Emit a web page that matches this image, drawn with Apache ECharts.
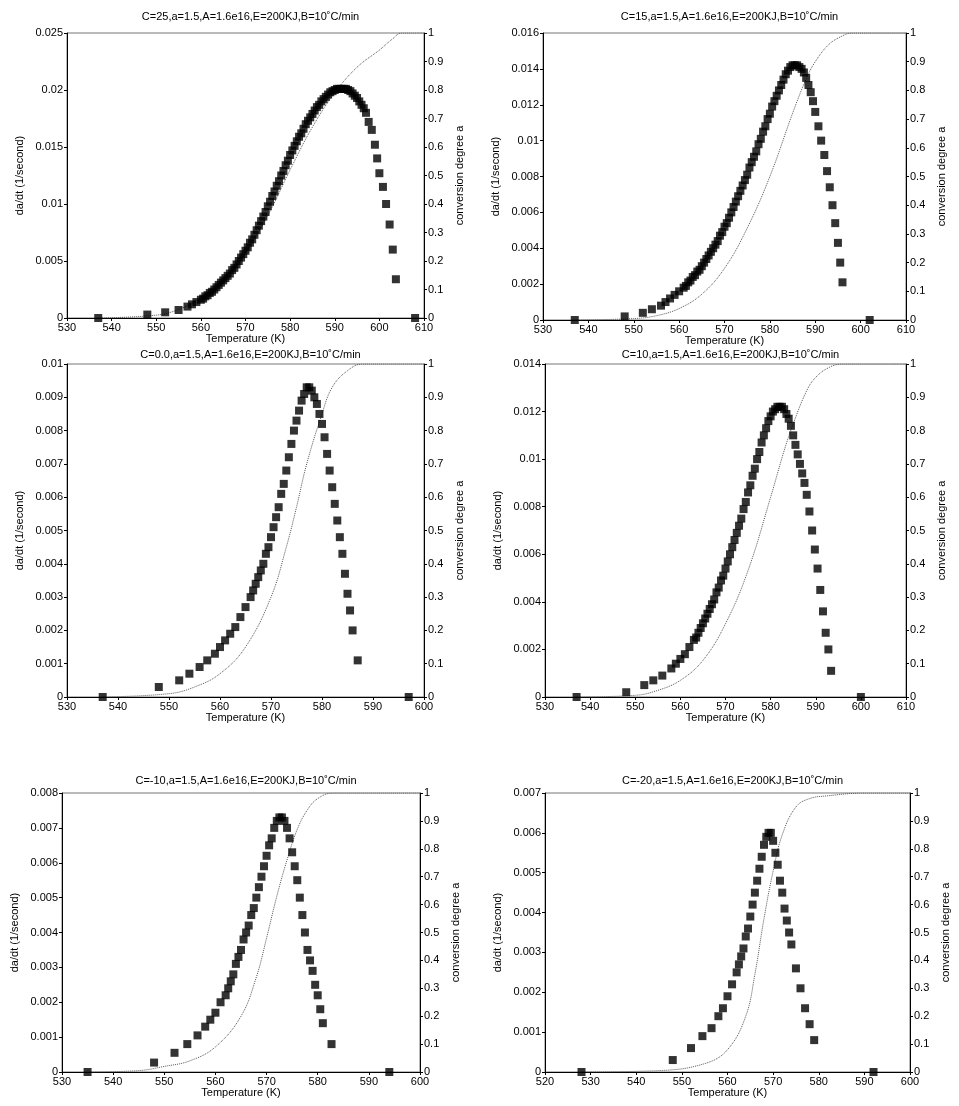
<!DOCTYPE html>
<html>
<head>
<meta charset="utf-8">
<script src="https://cdn.jsdelivr.net/npm/echarts@6/dist/echarts.min.js"></script>
<style>html,body{margin:0;padding:0;background:#fff}#c{width:959px;height:1106px}</style>
</head>
<body>
<div id="c"></div>
<script>
// rate data [T (K), da/dt] and conversion [T, a] for each panel
var titles = ['C=25,a=1.5,A=1.6e16,E=200KJ,B=10\u02daC/min', 'C=15,a=1.5,A=1.6e16,E=200KJ,B=10\u02daC/min',
    'C=0.0,a=1.5,A=1.6e16,E=200KJ,B=10\u02daC/min', 'C=10,a=1.5,A=1.6e16,E=200KJ,B=10\u02daC/min',
    'C=-10,a=1.5,A=1.6e16,E=200KJ,B=10\u02daC/min', 'C=-20,a=1.5,A=1.6e16,E=200KJ,B=10\u02daC/min'];
var xRange = [[530, 610], [530, 610], [530, 600], [530, 610], [530, 600], [520, 600]];
var yMax = [0.025, 0.016, 0.01, 0.014, 0.008, 0.007];
var yStep = [0.005, 0.002, 0.001, 0.002, 0.001, 0.001];

var rate1 = [[537,0],[548,0.0003],[552,0.0005],[555,0.0007],[557,0.001],[558,0.0012],[559,0.0014],[560,0.0016],[560.5,0.0017],[561,0.0019],[561.5,0.002],[562,0.0022],[562.5,0.0023],[563,0.0025],[563.5,0.0027],[564,0.0029],[564.5,0.0031],[565,0.0033],[565.5,0.0035],[566,0.0037],[566.5,0.0039],[567,0.0042],[567.5,0.0044],[568,0.0047],[568.5,0.005],[569,0.0053],[569.5,0.0056],[570,0.0059],[570.5,0.0062],[571,0.0066],[571.5,0.0069],[572,0.0073],[572.5,0.0077],[573,0.0081],[573.5,0.0085],[574,0.0089],[574.5,0.0093],[575,0.0098],[575.5,0.0102],[576,0.0107],[576.5,0.0111],[577,0.0116],[577.5,0.012],[578,0.0125],[578.5,0.0129],[579,0.0134],[579.5,0.0138],[580,0.0143],[580.5,0.0147],[581,0.0151],[581.5,0.0155],[582,0.0159],[582.5,0.0162],[583,0.0166],[583.5,0.017],[584,0.0173],[584.5,0.0176],[585,0.0179],[585.5,0.0182],[586,0.0185],[586.5,0.0187],[587,0.019],[587.5,0.0192],[588,0.0194],[588.5,0.0196],[589,0.0198],[589.5,0.0199],[590,0.02],[590.5,0.0201],[591,0.0201],[591.5,0.0201],[592,0.0201],[592.5,0.0201],[593,0.02],[593.5,0.0199],[594,0.0197],[594.5,0.0195],[595,0.0193],[595.5,0.019],[596,0.0187],[596.5,0.0184],[597,0.018],[597.6,0.0172],[598.3,0.0165],[599,0.0152],[599.5,0.014],[600,0.0127],[600.8,0.0115],[601.5,0.01],[602.3,0.0082],[603,0.006],[603.7,0.0034],[608,0]];
var conv1 = [[537,0],[550,0.01],[555,0.03],[560,0.07],[565,0.13],[570,0.23],[575,0.36],[580,0.52],[585,0.67],[590,0.79],[595,0.88],[600,0.94],[603,0.98],[605,1],[610,1]];

var rate2 = [[537,0],[548,0.0002],[552,0.0004],[554,0.0006],[556,0.0008],[557,0.001],[558,0.0012],[559,0.0014],[560,0.0016],[561,0.0018],[561.5,0.0019],[562,0.0021],[562.5,0.0022],[563,0.0024],[563.5,0.0025],[564,0.0027],[564.5,0.0028],[565,0.003],[565.5,0.0032],[566,0.0034],[566.5,0.0036],[567,0.0038],[567.5,0.004],[568,0.0042],[568.5,0.0044],[569,0.0047],[569.5,0.0049],[570,0.0052],[570.5,0.0054],[571,0.0057],[571.5,0.006],[572,0.0063],[572.5,0.0066],[573,0.0069],[573.5,0.0072],[574,0.0075],[574.5,0.0078],[575,0.0081],[575.5,0.0085],[576,0.0088],[576.5,0.0091],[577,0.0094],[577.5,0.0098],[578,0.0101],[578.5,0.0105],[579,0.0108],[579.5,0.0112],[580,0.0115],[580.5,0.0119],[581,0.0122],[581.5,0.0125],[582,0.0128],[582.5,0.0131],[583,0.0134],[583.5,0.0137],[584,0.0139],[584.5,0.0141],[585,0.0142],[585.5,0.0142],[586,0.0142],[586.5,0.0141],[587,0.014],[587.5,0.0138],[588,0.0135],[588.5,0.0131],[589,0.0127],[589.5,0.0122],[590,0.0116],[590.7,0.0108],[591.3,0.01],[592,0.0092],[592.6,0.0083],[593.2,0.0074],[593.8,0.0064],[594.4,0.0054],[595,0.0043],[595.5,0.0032],[596,0.0021],[602,0]];
var conv2 = [[537,0],[550,0.005],[555,0.015],[560,0.04],[565,0.09],[570,0.18],[575,0.32],[580,0.5],[585,0.72],[588,0.84],[590,0.9],[593,0.96],[596,0.99],[598,1],[610,1]];

var rate3 = [[537,0],[548,0.0003],[552,0.0005],[554,0.0007],[556,0.0009],[557.5,0.0011],[559,0.0013],[560,0.0015],[561,0.0017],[562,0.0019],[563,0.0021],[564,0.0024],[565,0.0027],[566,0.003],[566.5,0.0032],[567,0.0034],[567.5,0.0036],[568,0.0038],[568.5,0.004],[569,0.0043],[569.5,0.0045],[570,0.0048],[570.5,0.0051],[571,0.0054],[571.5,0.0057],[572,0.0061],[572.5,0.0064],[573,0.0068],[573.5,0.0072],[574,0.0076],[574.5,0.008],[575,0.0083],[575.5,0.0086],[576,0.0089],[576.5,0.0091],[577,0.0093],[577.5,0.0093],[578,0.0092],[578.5,0.009],[579,0.0088],[579.5,0.0085],[580,0.0082],[580.5,0.0078],[581,0.0073],[581.5,0.0068],[582,0.0063],[582.5,0.0058],[583,0.0053],[583.5,0.0048],[584,0.0043],[584.5,0.0037],[585,0.0031],[585.5,0.0026],[586,0.002],[587,0.0011],[597,0]];
var conv3 = [[537,0],[550,0.01],[555,0.03],[560,0.07],[565,0.15],[570,0.3],[573,0.45],[575,0.57],[577,0.7],[580,0.85],[582,0.93],[585,0.98],[588,1],[600,1]];

var rate4 = [[537,0],[548,0.0002],[552,0.0005],[554,0.0007],[556,0.0009],[558,0.0012],[559,0.0014],[560,0.0016],[561,0.0018],[562,0.0021],[563,0.0024],[563.5,0.0025],[564,0.0027],[564.5,0.0029],[565,0.0031],[565.5,0.0033],[566,0.0035],[566.5,0.0037],[567,0.0039],[567.5,0.0041],[568,0.0044],[568.5,0.0046],[569,0.0049],[569.5,0.0051],[570,0.0054],[570.5,0.0057],[571,0.006],[571.5,0.0063],[572,0.0066],[572.5,0.0069],[573,0.0072],[573.5,0.0075],[574,0.0079],[574.5,0.0082],[575,0.0086],[575.5,0.0089],[576,0.0093],[576.5,0.0096],[577,0.01],[577.5,0.0103],[578,0.0107],[578.5,0.011],[579,0.0113],[579.5,0.0116],[580,0.0118],[580.5,0.012],[581,0.0121],[581.5,0.0122],[582,0.0122],[582.5,0.0122],[583,0.0121],[583.5,0.0119],[584,0.0117],[584.5,0.0114],[585,0.011],[585.5,0.0106],[586,0.0102],[586.5,0.0098],[587,0.0094],[587.5,0.009],[588,0.0085],[588.6,0.0078],[589.2,0.007],[589.8,0.0062],[590.4,0.0054],[591,0.0045],[591.6,0.0036],[592.2,0.0027],[592.8,0.002],[593.4,0.0011],[600,0]];
var conv4 = [[537,0],[550,0.005],[555,0.02],[560,0.05],[565,0.11],[570,0.22],[575,0.38],[580,0.6],[583,0.74],[585,0.82],[588,0.92],[590,0.96],[593,0.99],[596,1],[610,1]];

var rate5 = [[535,0],[548,0.00027],[552,0.00055],[554.5,0.0008],[556.5,0.00105],[558,0.0013],[559,0.0015],[560,0.0017],[561,0.002],[562,0.0022],[562.5,0.0024],[563,0.0026],[563.5,0.0028],[564,0.0031],[564.5,0.0033],[565,0.0035],[565.5,0.0038],[566,0.004],[566.5,0.0042],[567,0.0045],[567.5,0.0047],[568,0.005],[568.5,0.0053],[569,0.0056],[569.5,0.0059],[570,0.0062],[570.5,0.0065],[571,0.0067],[571.5,0.007],[572,0.0072],[572.5,0.0073],[573,0.0073],[573.5,0.0072],[574,0.007],[574.5,0.0067],[575,0.0063],[575.5,0.0059],[576,0.0055],[576.5,0.005],[577,0.0045],[577.5,0.004],[578,0.0035],[578.5,0.0032],[579,0.0029],[579.5,0.0025],[580,0.0022],[580.5,0.0018],[581,0.0014],[582.7,0.0008],[594,0]];
var conv5 = [[535,0],[545,0.005],[550,0.02],[555,0.04],[560,0.09],[565,0.2],[568,0.34],[570,0.48],[572,0.63],[574,0.76],[576,0.87],[578,0.94],[580,0.98],[583,1],[600,1]];

var rate6 = [[528,0],[548,0.0003],[552,0.0006],[554.5,0.0009],[556.5,0.0011],[558,0.0014],[559,0.0016],[560,0.0019],[561,0.0022],[562,0.0025],[562.5,0.0027],[563,0.0029],[563.5,0.0031],[564,0.0034],[564.5,0.0036],[565,0.0039],[565.5,0.0042],[566,0.0045],[566.5,0.0048],[567,0.0051],[567.5,0.0054],[568,0.0057],[568.5,0.0059],[569,0.006],[569.5,0.006],[570,0.0058],[570.5,0.0055],[571,0.0052],[571.5,0.0048],[572,0.0045],[572.5,0.0041],[573,0.0038],[573.5,0.0035],[574,0.0032],[575,0.0026],[576,0.0021],[577,0.0016],[578,0.0012],[579,0.0008],[592,0]];
var conv6 = [[528,0],[545,0.005],[555,0.03],[560,0.08],[564,0.2],[566,0.35],[568,0.55],[570,0.72],[572,0.85],[575,0.95],[578,0.98],[582,0.99],[590,1],[600,1]];

var rates = [rate1, rate2, rate3, rate4, rate5, rate6];
var convs = [conv1, conv2, conv3, conv4, conv5, conv6];

var boxes = [
    {left: 67, top: 33, width: 357, height: 285},
    {left: 543, top: 33, width: 363, height: 287},
    {left: 67, top: 364, width: 357, height: 333},
    {left: 545, top: 364, width: 361, height: 333},
    {left: 62, top: 793, width: 358, height: 279},
    {left: 545, top: 793, width: 365, height: 279}
];
var titleTop = [6, 6, 344, 344, 770, 770];

var font = 'Liberation Sans, Arial, sans-serif';
var lab = {color: '#000', fontSize: 11, fontFamily: font, margin: 4};
var line = {show: true, lineStyle: {color: '#000', width: 1}};

var option = {title: [], grid: [], xAxis: [], yAxis: [], series: [], animation: false};
for (var i = 0; i < 6; i++) {
    var b = boxes[i];
    option.title.push({text: titles[i], left: b.left + b.width / 2, top: titleTop[i], textAlign: 'center',
        textStyle: {fontSize: 11, fontWeight: 'normal', color: '#000', fontFamily: font}});
    option.grid.push({left: b.left, top: b.top, width: b.width, height: b.height, show: true, borderColor: '#777', borderWidth: 1});
    option.xAxis.push({type: 'value', gridIndex: i, min: xRange[i][0], max: xRange[i][1], interval: 10,
        name: 'Temperature (K)', nameLocation: 'middle', nameGap: 15,
        nameTextStyle: {fontSize: 11, color: '#000', fontFamily: font},
        axisLine: line, axisTick: {inside: false, length: 3}, axisLabel: lab, splitLine: {show: false}});
    option.yAxis.push({type: 'value', gridIndex: i, min: 0, max: yMax[i], interval: yStep[i],
        name: 'da/dt (1/second)', nameLocation: 'middle', nameGap: 42,
        nameTextStyle: {fontSize: 11, color: '#000', fontFamily: font},
        axisLine: line, axisTick: {length: 3}, axisLabel: lab, splitLine: {show: false}});
    option.yAxis.push({type: 'value', gridIndex: i, position: 'right', min: 0, max: 1, interval: 0.1,
        name: 'conversion degree a', nameLocation: 'middle', nameGap: 30,
        nameTextStyle: {fontSize: 11, color: '#000', fontFamily: font},
        axisLine: line, axisTick: {length: 3}, axisLabel: lab, splitLine: {show: false}});
    option.series.push({type: 'line', xAxisIndex: i, yAxisIndex: 2 * i + 1, data: convs[i], smooth: 0.4,
        showSymbol: false, lineStyle: {color: '#555', width: 1, type: 'dotted'}, z: 1});
    option.series.push({type: 'scatter', xAxisIndex: i, yAxisIndex: 2 * i, data: rates[i],
        symbol: 'rect', symbolSize: 8, itemStyle: {color: '#000'}, z: 2});
}
echarts.init(document.getElementById('c')).setOption(option);
</script>
</body>
</html>
